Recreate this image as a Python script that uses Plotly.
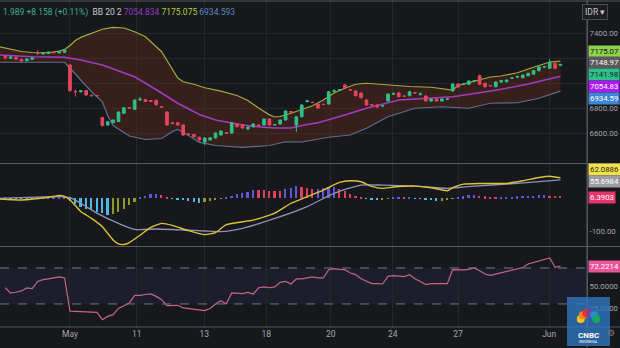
import math
import plotly.graph_objects as go

# ---------------- data ----------------
opens = [7215, 7198, 7206, 7190, 7178, 7190, 7244, 7232, 7236, 7246, 7240, 7246,
         7144, 6932, 6930, 6940, 6902, 6900,
         6722, 6664, 6682, 6692, 6758, 6804,
         6790, 6866, 6868, 6860, 6862, 6812,
         6768, 6682, 6682, 6664, 6592, 6588,
         6566, 6528, 6544, 6560, 6584, 6602,
         6600, 6672, 6664, 6632, 6650, 6664,
         6664, 6712, 6664, 6672, 6704, 6772,
         6664, 6730, 6852, 6846, 6832, 6830,
         6832, 6934, 6944, 6984, 6946, 6936,
         6920, 6864, 6826, 6824, 6816, 6856,
         6910, 6920, 6896, 6898, 6922, 6910,
         6896, 6856, 6872, 6856, 6870, 6936,
         6992, 6990, 6990, 7016, 7058, 6998,
         6980, 6970, 7008, 7010, 7038, 7048,
         7042, 7058, 7070, 7098, 7128, 7118,
         7158, 7142]
highs = [7220, 7212, 7210, 7194, 7196, 7206, 7262, 7248, 7252, 7250, 7254, 7268,
         7150, 6948, 6944, 6944, 6906, 6904,
         6730, 6694, 6708, 6772, 6806, 6808,
         6868, 6888, 6872, 6864, 6866, 6814,
         6772, 6686, 6686, 6668, 6596, 6592,
         6570, 6566, 6566, 6604, 6620, 6606,
         6690, 6676, 6668, 6652, 6676, 6668,
         6716, 6716, 6672, 6708, 6780, 6776,
         6734, 6828, 6866, 6850, 6836, 6834,
         6934, 6950, 6950, 6990, 6950, 6940,
         6924, 6870, 6830, 6828, 6822, 6916,
         6926, 6930, 6900, 6934, 6926, 6926,
         6902, 6876, 6876, 6876, 6876, 6998,
         6996, 6994, 7020, 7022, 7066, 7002,
         6984, 7012, 7024, 7028, 7042, 7060,
         7068, 7082, 7104, 7132, 7134, 7190,
         7164, 7152]
lows = [7196, 7194, 7186, 7172, 7174, 7186, 7226, 7228, 7232, 7238, 7236, 7242,
        6930, 6892, 6924, 6898, 6894, 6894,
        6650, 6660, 6678, 6688, 6754, 6796,
        6786, 6856, 6848, 6848, 6822, 6804,
        6660, 6674, 6660, 6578, 6584, 6566,
        6530, 6504, 6540, 6556, 6580, 6594,
        6596, 6646, 6636, 6628, 6646, 6656,
        6660, 6660, 6660, 6668, 6700, 6764,
        6610, 6726, 6844, 6840, 6796, 6826,
        6828, 6926, 6940, 6958, 6940, 6894,
        6878, 6820, 6820, 6796, 6812, 6852,
        6904, 6886, 6890, 6894, 6916, 6900,
        6852, 6852, 6852, 6852, 6866, 6930,
        6964, 6986, 6986, 7012, 6986, 6966,
        6974, 6966, 7004, 7006, 7034, 7040,
        7038, 7054, 7066, 7094, 7124, 7112,
        7110, 7140]
closes = [7200, 7208, 7190, 7176, 7192, 7202, 7238, 7244, 7248, 7242, 7250, 7264,
          6940, 6930, 6938, 6904, 6898, 6898,
          6660, 6690, 6704, 6768, 6802, 6800,
          6864, 6870, 6852, 6852, 6826, 6808,
          6664, 6678, 6664, 6584, 6588, 6570,
          6548, 6560, 6562, 6600, 6616, 6598,
          6680, 6650, 6640, 6648, 6672, 6660,
          6712, 6664, 6668, 6704, 6776, 6768,
          6730, 6824, 6856, 6844, 6800, 6828,
          6930, 6938, 6946, 6962, 6944, 6898,
          6882, 6824, 6824, 6810, 6818, 6912,
          6914, 6890, 6894, 6930, 6920, 6912,
          6856, 6872, 6856, 6872, 6872, 6992,
          6968, 6992, 7016, 7018, 6990, 6970,
          6978, 7008, 7020, 7024, 7040, 7050,
          7064, 7078, 7100, 7128, 7130, 7166,
          7118, 7149]

bb_upper_idx = [-1, 1, 3, 5, 8, 10, 11, 12, 13, 14, 16, 18, 20, 22, 24, 26, 27, 29, 30, 31, 32, 33,
                35, 37, 40, 43, 45, 47, 49, 50, 51, 53, 55, 57, 59, 61, 63, 65, 67, 70, 75, 79,
                82, 83, 84, 86, 88, 90, 92, 95, 98, 101, 103]
bb_upper = [7290, 7272, 7252, 7244, 7242, 7256, 7268, 7300, 7340, 7365, 7398, 7430, 7445, 7440,
            7410, 7370, 7330, 7250, 7180, 7110, 7040, 7010, 6990, 6962, 6935, 6900, 6860, 6800,
            6745, 6728, 6732, 6758, 6790, 6818, 6864, 6920, 6958, 6990, 6998, 6986, 6972, 6966,
            6950, 6944, 6980, 7002, 7024, 7048, 7056, 7082, 7126, 7168, 7175.075]

bb_mid_idx = [-1, 5, 11, 14, 18, 24, 29, 32, 36, 39, 42, 46, 50, 53, 55, 58, 63, 67, 73, 79,
              83, 88, 92, 97, 101, 103]
bb_mid = [7224, 7210, 7206, 7184, 7144, 7050, 6920, 6838, 6748, 6704, 6680, 6652, 6640, 6640,
          6660, 6682, 6744, 6798, 6864, 6878, 6890, 6922, 6950, 6992, 7030, 7054.834]

bb_lower_idx = [-1, 11, 12, 14, 16, 18, 19, 20, 23, 26, 29, 31, 32, 34, 36, 39, 44, 49, 52, 55,
                60, 64, 67, 71, 76, 81, 86, 90, 95, 99, 102, 103]
bb_lower = [7166, 7166, 7118, 7024, 6930, 6850, 6740, 6660, 6576, 6548, 6556, 6612, 6628, 6580,
            6525, 6500, 6485, 6500, 6530, 6528, 6566, 6584, 6638, 6730, 6798, 6810, 6798, 6838,
            6842, 6878, 6918, 6934.593]

macd_idx = [-1, 3, 8, 10, 11, 12, 13, 14, 16, 18, 20, 21, 22, 23, 25, 27, 29, 31, 34, 37, 39,
            41, 46, 50, 53, 56, 59, 62, 64, 66, 68, 70, 72, 76, 79, 82, 83, 85, 88, 93, 96, 99,
            101, 103]
macd_vals = [-2, -5, 3, 9, 6, -5, -22, -40, -61, -86, -126, -138, -140, -134, -112, -88, -76,
             -82, -98, -110, -104, -80, -66, -45, -15, 5, 25, 48, 53, 50, 36, 30, 34, 37, 32, 23,
             32, 43, 45, 45, 53, 63, 67, 62.0886]

signal_idx = [-1, 10, 12, 14, 17, 21, 24, 28, 33, 37, 40, 44, 50, 56, 61, 66, 70, 76, 82, 87,
              95, 103]
signal_vals = [0, 5, 2, -15, -45, -76, -94, -93, -96, -99, -101, -91, -61, -25, 15, 40, 40, 37,
               30, 37, 45, 55.6984]

hist_vals = [1, -1, -2, -2, -1, 1, 3, 3, 2, 2, 3, 2,
             -8, -18, -26, -32, -36, -40, -44, -50, -47, -40, -31, -21, -10,
             4, 8, 12, 14, 11, 5, -2, -4, -6, -9, -11, -13, -12, -8, -5, -2,
             3, 8, 12, 16, 20, 26, 25, 24, 23, 22, 21, 27, 32, 36, 33, 30, 27, 29, 31, 33, 34,
             28, 21, 14, 8, 3, -1, -3, -5, -4, -2, 1, 2, 1, 1, -1, -2, -4, -6, -8, -7, -5, -2,
             3, 6, 9, 10, 8, 6, 5, 4, 4, 5, 5, 6, 7, 8, 8, 9, 9, 8, 7, 6.3903]

rsi_vals = [48, 42, 43, 44.5, 47.8, 47, 55, 57, 57.8, 58.5, 60, 58.9,
            22, 21.8, 21.5, 21.5, 21.1, 20.7,
            12.5, 16.2, 18.1, 25, 28, 31.1,
            39.6, 39.6, 40.5, 41.1, 38.4, 34.8,
            28.1, 28.3, 28.5, 25.6, 24.8, 24.4,
            23.7, 22.6, 25, 30, 33.7, 30,
            42.2, 42, 41.5, 42.9, 41.1, 48,
            48.9, 48, 48.9, 54, 55.1, 52.2,
            57.8, 57.8, 58.5, 60, 58.9, 58.9,
            68.1, 69.2, 68.5, 68.1, 64.4, 62.6,
            58, 55.1, 52.6, 52.5, 52.2, 60.7,
            61.4, 61, 60.5, 62.6, 58, 55,
            51.5, 52.6, 52.6, 52.6, 52.6, 68.1,
            67.8, 67.8, 68.5, 70, 67, 63.3,
            61.8, 63.3, 64.5, 66, 67.5, 69.2,
            70.5, 74.4, 76, 78, 80, 81.1,
            70.7, 72.2214]

tick_pos = [12.0, 24.4, 36.9, 48.4, 60.4, 71.9, 84.0, 100.9]
tick_labels = ["May", "11", "13", "18", "20", "24", "27", "Jun"]

price_ticks = [6600, 6800, 7000, 7200, 7400]
price_tick_text = ["6600.00", "6800.00", "", "", "7400.00"]

# ---------------- geometry / style ----------------
W, H = 620, 348
ML, MR, MT, MB = 0, 33, 0, 21
PW, PH = W - ML - MR, H - MT - MB


def fy(px):
    return 1 - px / PH


def fx(px):
    return px / PW


X_RANGE = [-0.983, 107.92]
P_RANGE = [6368, 7664]
M_RANGE = [-144.5, 103.9]
R_RANGE = [4.4, 93.3]

BG = "#17181b"
GRID = "#25272c"
SEP = "#55585e"
FONT = "Roboto, Arial, sans-serif"
AX_FONT = dict(family=FONT, size=7.8, color="#a3a6ad")
GREEN = "#2fbf8a"
RED = "#e4475e"

idx = list(range(len(closes)))

fig = go.Figure()

# Bollinger bands (on main price axis)
fig.add_trace(go.Scatter(x=bb_lower_idx, y=bb_lower, mode="lines",
                         line=dict(color="#5d6f8e", width=1.2),
                         xaxis="x", yaxis="y", hoverinfo="skip"))
fig.add_trace(go.Scatter(x=bb_upper_idx, y=bb_upper, mode="lines",
                         line=dict(color="#9fae3c", width=1.2),
                         fill="tonexty", fillcolor="rgba(105,45,28,0.40)",
                         xaxis="x", yaxis="y", hoverinfo="skip"))
fig.add_trace(go.Scatter(x=bb_mid_idx, y=bb_mid, mode="lines",
                         line=dict(color="#a33cc2", width=1.5),
                         xaxis="x", yaxis="y", hoverinfo="skip"))

# Candles on an overlaid axis so they sit above the bands
fig.add_trace(go.Candlestick(x=idx, open=opens, high=highs, low=lows, close=closes,
                             xaxis="x", yaxis="y4", whiskerwidth=0,
                             increasing=dict(line=dict(color=GREEN, width=1), fillcolor=GREEN),
                             decreasing=dict(line=dict(color=RED, width=1), fillcolor=RED),
                             hoverinfo="skip"))

# MACD histogram colours from the series direction
UP_RISE, UP_FALL, DN_FALL, DN_RISE = "#6257d8", "#e0405a", "#4fb8e8", "#8c9a2c"
hist_colors = []
prev = 0
for h in hist_vals:
    if h >= 0:
        hist_colors.append(UP_RISE if h >= prev else UP_FALL)
    else:
        hist_colors.append(DN_FALL if h <= prev else DN_RISE)
    prev = h

fig.add_trace(go.Bar(x=idx, y=hist_vals, marker=dict(color=hist_colors, line=dict(width=0)),
                     width=0.32, xaxis="x2", yaxis="y2", hoverinfo="skip"))
fig.add_trace(go.Scatter(x=signal_idx, y=signal_vals, mode="lines",
                         line=dict(color="#8f93b8", width=1.3, shape="spline", smoothing=0.6),
                         xaxis="x2", yaxis="y2", hoverinfo="skip"))
fig.add_trace(go.Scatter(x=macd_idx, y=macd_vals, mode="lines",
                         line=dict(color="#d8c23c", width=1.4, shape="spline", smoothing=0.5),
                         xaxis="x2", yaxis="y2", hoverinfo="skip"))

# RSI
fig.add_trace(go.Scatter(x=idx, y=rsi_vals, mode="lines",
                         line=dict(color="#c8628c", width=1.2),
                         xaxis="x3", yaxis="y3", hoverinfo="skip"))

xcommon = dict(range=X_RANGE, tickvals=tick_pos, showgrid=True, gridcolor=GRID, gridwidth=1,
               zeroline=False, showline=False, ticks="", domain=[0, 1])
ycommon = dict(side="right", zeroline=False, showline=True, linecolor=SEP, linewidth=1,
               ticks="", tickfont=AX_FONT)

fig.update_layout(
    width=W, height=H,
    margin=dict(l=ML, r=MR, t=MT, b=MB, pad=0),
    paper_bgcolor=BG, plot_bgcolor=BG,
    showlegend=False,
    bargap=0,
    xaxis=dict(**xcommon, anchor="y", showticklabels=False, rangeslider=dict(visible=False)),
    xaxis2=dict(**xcommon, anchor="y2", matches="x", showticklabels=False),
    xaxis3=dict(**xcommon, anchor="y3", matches="x", ticktext=tick_labels,
                showticklabels=True, tickfont=dict(family=FONT, size=8.5, color="#a3a6ad")),
    yaxis=dict(**ycommon, domain=[fy(162), 1], range=P_RANGE, tickvals=price_ticks,
               ticktext=price_tick_text, showgrid=True, gridcolor=GRID),
    yaxis4=dict(overlaying="y", range=P_RANGE, visible=False, anchor="x"),
    yaxis2=dict(**ycommon, domain=[fy(246), fy(164)], range=M_RANGE, tickvals=[-100],
                ticktext=["-100.00"], showgrid=False),
    yaxis3=dict(**ycommon, domain=[0, fy(247)], range=R_RANGE, tickvals=[25, 50],
                ticktext=["25.0000", "50.0000"], showgrid=False),
)

shapes = []
# RSI band and dashed bounds
shapes.append(dict(type="rect", xref="paper", yref="y3", x0=0, x1=1, y0=30, y1=70,
                   fillcolor="#1c1f2b", line=dict(width=0), layer="below"))
for lvl in (30, 70):
    shapes.append(dict(type="line", xref="paper", yref="y3", x0=0, x1=1, y0=lvl, y1=lvl,
                       line=dict(color="#74777e", width=1, dash="dash")))
# panel separators
for pxrow in (1, 163.5, 246.5, 327):
    shapes.append(dict(type="line", xref="paper", yref="paper", x0=0, x1=fx(W),
                       y0=fy(pxrow), y1=fy(pxrow), line=dict(color=SEP, width=1)))
shapes.append(dict(type="line", xref="paper", yref="paper", x0=fx(587), x1=fx(587),
                   y0=fy(0), y1=fy(H), line=dict(color=SEP, width=1)))

# CNBC watermark
shapes.append(dict(type="rect", xref="paper", yref="paper", x0=fx(567), x1=fx(610),
                   y0=fy(346), y1=fy(297), fillcolor="rgba(48,118,190,0.80)",
                   line=dict(width=0), layer="above"))
feather_cols = ["#f7c51e", "#f58220", "#e7312f", "#7b3fa0", "#1a8fd6", "#19a85a"]
cx, cy, rad = 588.5, 321, 8
for k, col in enumerate(feather_cols):
    ang = math.radians(165 - k * 30)
    px_ = cx + rad * math.cos(ang)
    py_ = cy - rad * math.sin(ang)
    shapes.append(dict(type="circle", xref="paper", yref="paper",
                       x0=fx(px_ - 4), x1=fx(px_ + 4), y0=fy(py_ + 4), y1=fy(py_ - 4),
                       fillcolor=col, line=dict(width=0), layer="above"))
fig.update_layout(shapes=shapes)

ann = []
header = ('<span style="color:#3fae8d">1.989 +8.158 (+0.11%)</span>  '
          '<span style="color:#c9cbd1">BB 20 2</span> '
          '<span style="color:#8e3fc2">7054.834</span> '
          '<span style="color:#b8cf43">7175.075</span> '
          '<span style="color:#5b86c5">6934.593</span>')
ann.append(dict(xref="paper", yref="paper", x=fx(1), y=fy(12), xanchor="left",
                yanchor="middle", text=header, showarrow=False,
                font=dict(family=FONT, size=8.5)))
ann.append(dict(xref="paper", yref="paper", x=fx(582), y=fy(12), xanchor="left",
                yanchor="middle", text="IDR ▾", showarrow=False, bgcolor="#1c1d21",
                bordercolor="#4a4c52", borderwidth=1, borderpad=2,
                font=dict(family=FONT, size=8.5, color="#c8c9cc")))

boxes = [
    ("7175.07", 52, "#8fd14f", "#111111"),
    ("7148.97", 63, "#5a5a5c", "#ffffff"),
    ("7141.98", 75, "#2fbf8a", "#10261c"),
    ("7054.83", 87, "#a81cf5", "#ffffff"),
    ("6934.59", 98, "#3d86d6", "#ffffff"),
    ("62.0886", 170, "#f2e24a", "#222222"),
    ("55.6984", 181, "#9e9ea2", "#ffffff"),
    ("6.3903", 197, "#e8336b", "#ffffff"),
    ("72.2214", 266, "#e8559a", "#ffffff"),
]
for txt, row, bg, fg in boxes:
    ann.append(dict(xref="paper", yref="paper", x=fx(588), y=fy(row), xanchor="left",
                    yanchor="middle", text=txt, showarrow=False, bgcolor=bg, borderpad=1,
                    font=dict(family=FONT, size=7.8, color=fg)))

ann.append(dict(xref="paper", yref="paper", x=fx(588.5), y=fy(335), xanchor="center",
                yanchor="middle", text="<b>CNBC</b>", showarrow=False,
                font=dict(family=FONT, size=8, color="#ffffff")))
ann.append(dict(xref="paper", yref="paper", x=fx(588.5), y=fy(341.5), xanchor="center",
                yanchor="middle", text="INDONESIA", showarrow=False,
                font=dict(family=FONT, size=3.5, color="#ffffff")))
ann.append(dict(xref="paper", yref="paper", x=fx(611), y=fy(333), xanchor="center",
                yanchor="middle", text="⚙", showarrow=False,
                font=dict(family="DejaVu Sans", size=9, color="#7d8086")))
fig.update_layout(annotations=ann)

fig.write_html("out.html", include_plotlyjs=True, config={"displayModeBar": False})
